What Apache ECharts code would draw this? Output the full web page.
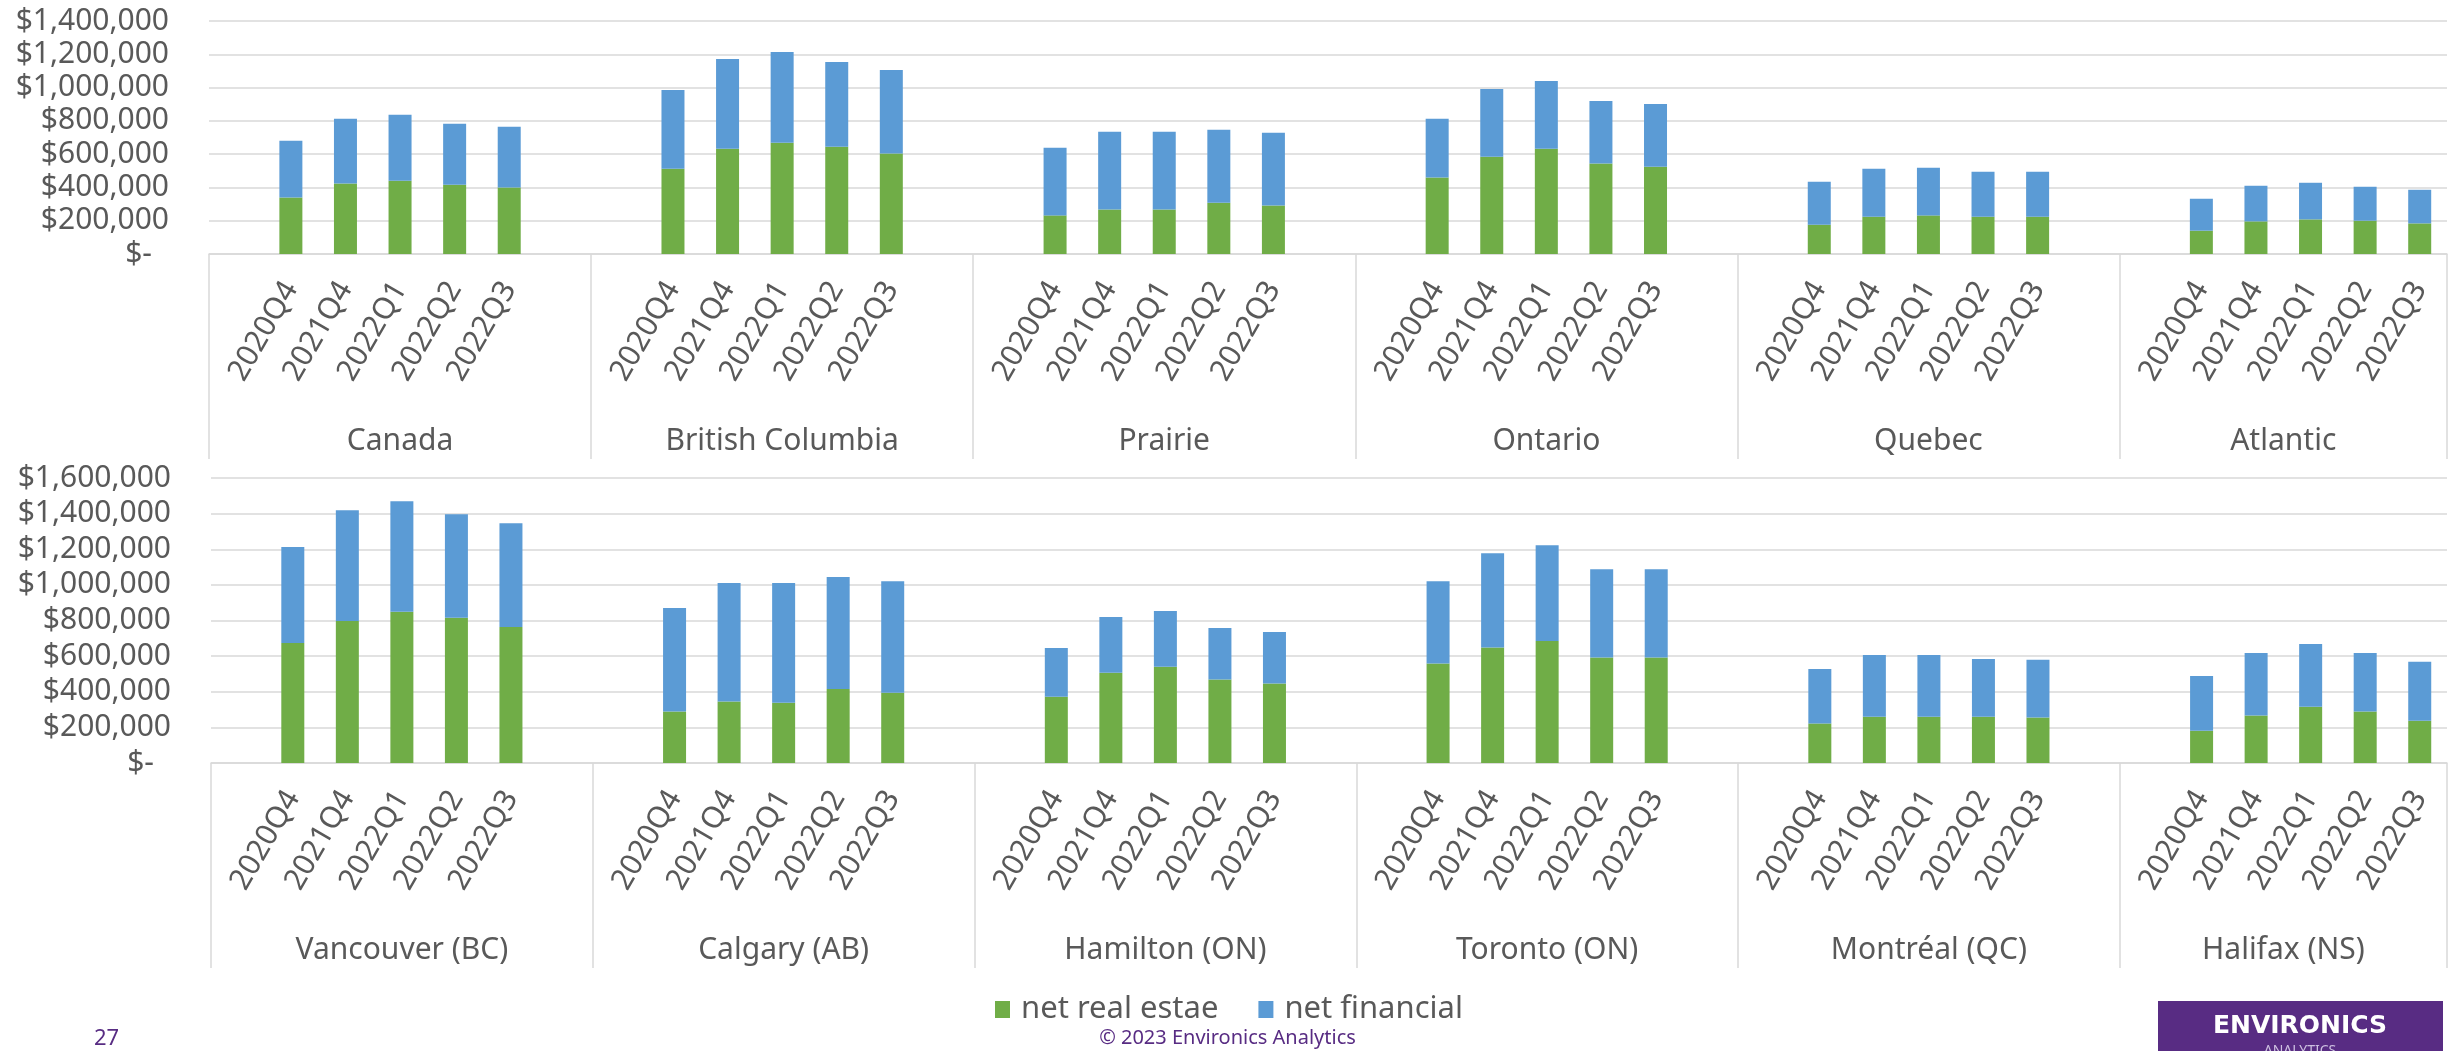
<!DOCTYPE html>
<html>
<head>
<meta charset="utf-8">
<title>Net real estate and net financial assets</title>
<script src="https://cdn.jsdelivr.net/npm/echarts@6/dist/echarts.min.js"></script>
<style>
html, body { margin: 0; padding: 0; background: #fff; }
#main { width: 2455px; height: 1051px; }
</style>
</head>
<body>
<div id="main"></div>
<script>
var quarters = ['2020Q4', '2021Q4', '2022Q1', '2022Q2', '2022Q3'];
var regions = ['Canada', 'British Columbia', 'Prairie', 'Ontario', 'Quebec', 'Atlantic'];
var cities = ['Vancouver (BC)', 'Calgary (AB)', 'Hamilton (ON)', 'Toronto (ON)', 'Montréal (QC)', 'Halifax (NS)'];

var regionRealEstate = [
    [340000, 424000, 440000, 416000, 400000],
    [512000, 632000, 668000, 644000, 604000],
    [232000, 268000, 268000, 308000, 292000],
    [460000, 584000, 632000, 544000, 524000],
    [176000, 224000, 232000, 224000, 224000],
    [140000, 196000, 208000, 200000, 184000]
];
var regionFinancial = [
    [340000, 388000, 396000, 366000, 364000],
    [474000, 540000, 546000, 510000, 502000],
    [406000, 466000, 466000, 438000, 436000],
    [352000, 408000, 408000, 376000, 378000],
    [258000, 288000, 286000, 270000, 270000],
    [192000, 214000, 220000, 204000, 202000]
];
var cityRealEstate = [
    [674000, 797000, 849000, 816000, 764000],
    [289000, 345000, 338000, 416000, 394000],
    [372000, 506000, 540000, 469000, 446000],
    [558000, 648000, 685000, 592000, 592000],
    [222000, 260000, 260000, 260000, 256000],
    [181000, 267000, 316000, 289000, 237000]
];
var cityFinancial = [
    [538000, 622000, 620000, 581000, 582000],
    [581000, 665000, 672000, 628000, 627000],
    [274000, 314000, 313000, 289000, 290000],
    [463000, 530000, 538000, 496000, 496000],
    [306000, 347000, 347000, 324000, 323000],
    [308000, 351000, 352000, 329000, 331000]
];

var regionMax = 1400000;
var cityMax = 1600000;
var tickStep = 200000;

var textColor = '#595959';
var lineColor = '#d9d9d9';
var font = '"Noto Sans", sans-serif';
var purple = '#582c83';

// each group gets a blank slot before it, and after it except the last one
function layout(values) {
    var out = [];
    values.forEach(function (row, i) {
        out.push(null);
        row.forEach(function (v) { out.push(v); });
        if (i < values.length - 1) out.push(null);
    });
    return out;
}

var categories = layout(regions.map(function () { return quarters; })).map(function (q) { return q || ''; });

var bounds = [0];
regions.forEach(function (r, i) {
    bounds.push(bounds[i] + quarters.length + (i < regions.length - 1 ? 2 : 1));
});
var centers = [];
for (var i = 0; i < regions.length; i++) centers.push((bounds[i] + bounds[i + 1]) / 2);

function moneyLabel(v) {
    if (v === 0) return '{z|$-}';
    return '$' + v.toLocaleString('en-US');
}

function quarterAxis(gridIndex) {
    return {
        type: 'category',
        gridIndex: gridIndex,
        data: categories,
        position: 'bottom',
        axisLine: { show: true, lineStyle: { color: lineColor, width: 1.5 } },
        axisTick: { show: false },
        axisLabel: {
            interval: 0,
            rotate: 60,
            margin: 30,
            fontSize: 30,
            fontFamily: font,
            color: textColor
        }
    };
}

function groupAxis(gridIndex, names) {
    return {
        type: 'value',
        gridIndex: gridIndex,
        position: 'bottom',
        min: 0,
        max: categories.length,
        splitLine: { show: false },
        axisLine: { show: false },
        axisTick: {
            show: true,
            customValues: bounds,
            length: 205,
            lineStyle: { color: lineColor, width: 1.5 }
        },
        axisLabel: {
            customValues: centers,
            margin: 172,
            fontSize: 30,
            fontFamily: font,
            color: textColor,
            formatter: function (v) {
                var k = centers.indexOf(v);
                return k >= 0 ? names[k] : '';
            }
        }
    };
}

function moneyAxis(gridIndex, max) {
    return {
        type: 'value',
        gridIndex: gridIndex,
        min: 0,
        max: max,
        interval: tickStep,
        axisLine: { show: false },
        axisTick: { show: false },
        splitLine: { lineStyle: { color: lineColor, width: 1.5 } },
        axisLabel: {
            margin: 40,
            fontSize: 30,
            fontFamily: font,
            color: textColor,
            formatter: moneyLabel,
            rich: { z: { fontSize: 30, fontFamily: font, color: textColor, padding: [0, 17, 0, 0] } }
        }
    };
}

function bars(name, color, xIndex, yIndex, stack, values) {
    return {
        name: name,
        type: 'bar',
        xAxisIndex: xIndex,
        yAxisIndex: yIndex,
        stack: stack,
        barWidth: 23,
        itemStyle: { color: color },
        data: layout(values)
    };
}

var chart = echarts.init(document.getElementById('main'));
chart.setOption({
    animation: false,
    backgroundColor: '#fff',
    textStyle: { fontFamily: font },
    grid: [
        { left: 209, right: 8, top: 21, height: 233, outerBoundsMode: 'none' },
        { left: 211, right: 8, top: 478, height: 285, outerBoundsMode: 'none' }
    ],
    xAxis: [
        quarterAxis(0),
        groupAxis(0, regions),
        quarterAxis(1),
        groupAxis(1, cities)
    ],
    yAxis: [
        moneyAxis(0, regionMax),
        moneyAxis(1, cityMax)
    ],
    legend: {
        data: ['net real estae', 'net financial'],
        left: 990,
        top: 989,
        icon: 'rect',
        itemWidth: 15,
        itemHeight: 17,
        itemGap: 40,
        textStyle: { fontSize: 31, fontFamily: font, color: textColor, padding: [0, 0, 0, 6] }
    },
    series: [
        bars('net real estae', '#70ad47', 0, 0, 'regions', regionRealEstate),
        bars('net financial', '#5b9bd5', 0, 0, 'regions', regionFinancial),
        bars('net real estae', '#70ad47', 2, 1, 'cities', cityRealEstate),
        bars('net financial', '#5b9bd5', 2, 1, 'cities', cityFinancial)
    ],
    graphic: [
        {
            type: 'text', left: 94, top: 1028,
            style: { text: '27', fontSize: 22, fontFamily: font, fill: purple }
        },
        {
            type: 'text', left: 'center', top: 1028,
            style: { text: '© 2023 Environics Analytics', fontSize: 20, fontFamily: font, fill: purple }
        },
        {
            type: 'group', left: 2158, top: 1001,
            children: [
                { type: 'rect', shape: { x: 0, y: 0, width: 285, height: 60 }, style: { fill: purple } },
                {
                    type: 'text', x: 142, y: 13,
                    style: { text: 'ENVIRONICS', align: 'center', fontSize: 25, fontWeight: 'bold', fontFamily: '"DejaVu Sans", sans-serif', fill: '#fff' }
                },
                {
                    type: 'text', x: 142, y: 43,
                    style: { text: 'ANALYTICS', align: 'center', fontSize: 14, fontFamily: font, fill: '#cdbfe0' }
                }
            ]
        }
    ]
});
</script>
</body>
</html>
